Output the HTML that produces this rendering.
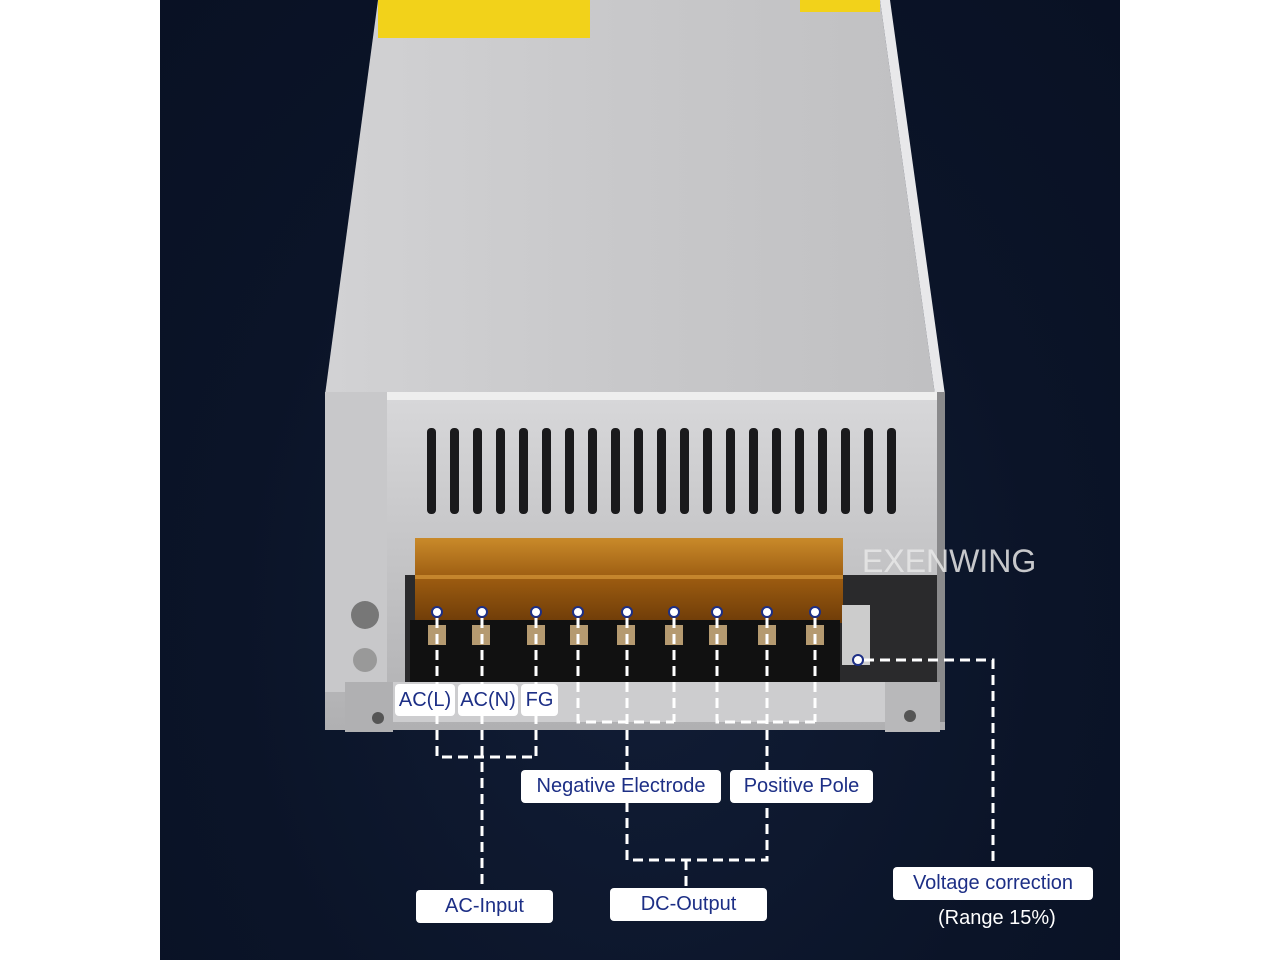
<!DOCTYPE html>
<html><head><meta charset="utf-8"><style>
*{margin:0;padding:0;box-sizing:border-box}
body{width:1280px;height:960px;background:#fff;position:relative;overflow:hidden;font-family:"Liberation Sans",sans-serif}
.bg{position:absolute;left:160px;top:0;width:960px;height:960px;background:radial-gradient(ellipse at 50% 65%,#111d36 0%,#0b1428 60%,#091124 100%)}
.a{position:absolute}
.lbl{position:absolute;background:#fff;border-radius:4px;color:#1d2f86;font-size:20px;text-align:center;white-space:nowrap}
</style></head><body>
<div class="bg"></div>
<svg class="a" style="left:0;top:0" width="1280" height="960">
<defs>
<linearGradient id="top" x1="0" x2="1"><stop offset="0" stop-color="#d2d2d4"/><stop offset=".5" stop-color="#c8c8ca"/><stop offset="1" stop-color="#c0c0c2"/></linearGradient>
<linearGradient id="front" x1="0" y1="0" x2="0" y2="1"><stop offset="0" stop-color="#d8d8da"/><stop offset="1" stop-color="#b0b0b2"/></linearGradient>
<linearGradient id="or" x1="0" y1="0" x2="0" y2="1"><stop offset="0" stop-color="#c98a2a"/><stop offset=".5" stop-color="#9a5a10"/><stop offset="1" stop-color="#6e3c08"/></linearGradient>
</defs>
<polygon points="378,0 880,0 935,395 325,395" fill="url(#top)"/>
<polygon points="880,0 890,0 945,395 935,395" fill="#e8e8ea"/>
<rect x="378" y="0" width="212" height="38" fill="#f2d21a"/>
<rect x="800" y="0" width="80" height="12" fill="#f2d21a"/>
<rect x="325" y="392" width="620" height="338" fill="url(#front)"/>
<rect x="325" y="392" width="62" height="300" fill="#c8c8ca"/>
<rect x="387" y="392" width="553" height="8" fill="#eeeeee"/>
<rect x="937" y="392" width="8" height="330" fill="#8a8a8c"/>
<g fill="#1a1a1c">
<rect x="427" y="428" width="9" height="86" rx="4"/><rect x="450" y="428" width="9" height="86" rx="4"/><rect x="473" y="428" width="9" height="86" rx="4"/><rect x="496" y="428" width="9" height="86" rx="4"/><rect x="519" y="428" width="9" height="86" rx="4"/><rect x="542" y="428" width="9" height="86" rx="4"/><rect x="565" y="428" width="9" height="86" rx="4"/><rect x="588" y="428" width="9" height="86" rx="4"/><rect x="611" y="428" width="9" height="86" rx="4"/><rect x="634" y="428" width="9" height="86" rx="4"/><rect x="657" y="428" width="9" height="86" rx="4"/><rect x="680" y="428" width="9" height="86" rx="4"/><rect x="703" y="428" width="9" height="86" rx="4"/><rect x="726" y="428" width="9" height="86" rx="4"/><rect x="749" y="428" width="9" height="86" rx="4"/><rect x="772" y="428" width="9" height="86" rx="4"/><rect x="795" y="428" width="9" height="86" rx="4"/><rect x="818" y="428" width="9" height="86" rx="4"/><rect x="841" y="428" width="9" height="86" rx="4"/><rect x="864" y="428" width="9" height="86" rx="4"/><rect x="887" y="428" width="9" height="86" rx="4"/>
</g>
<rect x="405" y="575" width="532" height="110" fill="#2a2a2c"/>
<rect x="415" y="538" width="428" height="85" fill="url(#or)"/>
<rect x="415" y="575" width="428" height="4" fill="#e0a040" opacity=".6"/>
<rect x="410" y="620" width="430" height="62" fill="#111"/>
<g fill="#b59a70">
<rect x="428" y="625" width="18" height="20"/><rect x="472" y="625" width="18" height="20"/><rect x="527" y="625" width="18" height="20"/><rect x="570" y="625" width="18" height="20"/><rect x="617" y="625" width="18" height="20"/><rect x="665" y="625" width="18" height="20"/><rect x="709" y="625" width="18" height="20"/><rect x="758" y="625" width="18" height="20"/><rect x="806" y="625" width="18" height="20"/>
</g>
<rect x="842" y="605" width="28" height="60" fill="#ccc"/>
<rect x="345" y="682" width="590" height="40" fill="#cdcdcf"/>
<rect x="345" y="682" width="48" height="50" fill="#b0b0b2"/>
<rect x="885" y="682" width="55" height="50" fill="#b8b8ba"/>
<circle cx="378" cy="718" r="6" fill="#555"/><circle cx="910" cy="716" r="6" fill="#555"/>
<circle cx="365" cy="660" r="12" fill="#999"/><circle cx="365" cy="615" r="14" fill="#777"/>
<g fill="#fff" stroke="#1d2f86" stroke-width="2">
<circle cx="437" cy="612" r="5"/><circle cx="482" cy="612" r="5"/><circle cx="536" cy="612" r="5"/><circle cx="578" cy="612" r="5"/><circle cx="627" cy="612" r="5"/><circle cx="674" cy="612" r="5"/><circle cx="717" cy="612" r="5"/><circle cx="767" cy="612" r="5"/><circle cx="815" cy="612" r="5"/><circle cx="858" cy="660" r="5"/>
</g>
<g stroke="#fff" stroke-width="3" fill="none" stroke-dasharray="10,6">
<path d="M437 618V757H538M482 618V890M536 618V757"/>
<path d="M578 618V722H674M627 618V770M674 618V722"/>
<path d="M717 618V722H815M767 618V770M815 618V722"/>
<path d="M627 802V860H767V802M686 860V888"/>
<path d="M864 660H993V868"/>
</g>
<text x="862" y="572" font-family="Liberation Sans" font-size="32" fill="#e8e8e8" opacity=".85">EXENWING</text>
</svg>
<div class="lbl" style="left:395px;top:684px;width:60px;height:32px;line-height:32px">AC(L)</div>
<div class="lbl" style="left:458px;top:684px;width:60px;height:32px;line-height:32px">AC(N)</div>
<div class="lbl" style="left:521px;top:684px;width:37px;height:32px;line-height:32px">FG</div>
<div class="lbl" style="left:521px;top:770px;width:200px;height:33px;line-height:33px">Negative Electrode</div>
<div class="lbl" style="left:730px;top:770px;width:143px;height:33px;line-height:33px">Positive Pole</div>
<div class="lbl" style="left:416px;top:890px;width:137px;height:33px;line-height:33px">AC-Input</div>
<div class="lbl" style="left:610px;top:888px;width:157px;height:33px;line-height:33px">DC-Output</div>
<div class="lbl" style="left:893px;top:867px;width:200px;height:33px;line-height:33px">Voltage correction</div>
<div class="a" style="left:938px;top:907px;color:#fff;font-size:20px">(Range 15%)</div>
</body></html>
